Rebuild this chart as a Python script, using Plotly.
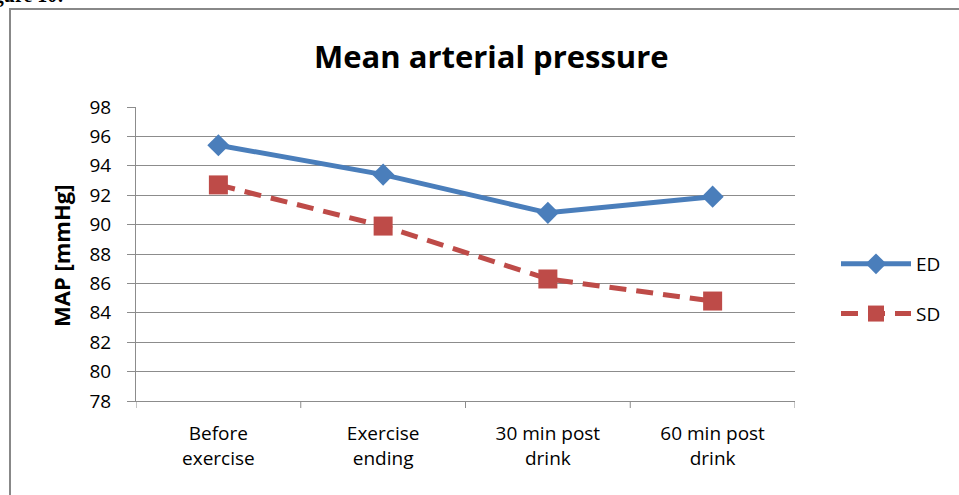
import plotly.graph_objects as go

categories = ["Before<br>exercise", "Exercise<br>ending", "30 min post<br>drink", "60 min post<br>drink"]
ed_values = [95.4, 93.4, 90.8, 91.9]
sd_values = [92.7, 89.9, 86.3, 84.8]
y_ticks = [78, 80, 82, 84, 86, 88, 90, 92, 94, 96, 98]

W, H = 959, 495
L, R, T, B = 136, 164, 107, 94
pw, ph = W - L - R, H - T - B

def px(x):
    return (x - L) / pw

def py(y):
    return (H - B - y) / ph

FONT = "Open Sans"
GRID = "#8C8C8C"

fig = go.Figure()
fig.add_trace(go.Scatter(
    x=list(range(len(categories))), y=ed_values, name="ED", mode="lines+markers",
    legendgroup="ed",
    line=dict(color="#4A7EBB", width=5),
    marker=dict(symbol="diamond", size=17, color="#4A7EBB"),
))
fig.add_trace(go.Scatter(
    x=list(range(len(categories))), y=sd_values, name="SD", mode="lines+markers",
    legendgroup="sd",
    line=dict(color="#BE4B48", width=5, dash="17px,10px"),
    marker=dict(symbol="square", size=19, color="#BE4B48"),
))

fig.update_layout(
    width=W, height=H,
    margin=dict(l=L, r=R, t=T, b=B),
    paper_bgcolor="white", plot_bgcolor="white",
    font=dict(family=FONT, color="black", size=18),
    showlegend=True,
    legend=dict(x=px(836), y=py(289), xanchor="left", yanchor="middle",
                font=dict(size=19, family=FONT), tracegroupgap=22, itemwidth=70,
                bgcolor="rgba(0,0,0,0)"),
    xaxis=dict(
        tickmode="array", tickvals=list(range(len(categories))), ticktext=categories,
        range=[-0.5, 3.5], showgrid=False, zeroline=False,
        showline=True, linecolor=GRID, linewidth=1,
        ticks="", tickfont=dict(size=19, family=FONT), ticklabelstandoff=15,
    ),
    yaxis=dict(
        range=[78, 98], tickvals=y_ticks, showgrid=True, gridcolor=GRID,
        gridwidth=1, zeroline=False, showline=True, linecolor=GRID, linewidth=1,
        ticks="outside", ticklen=8, tickcolor=GRID,
        tickfont=dict(size=19, family=FONT), ticklabelstandoff=12,
    ),
    annotations=[
        dict(text="<b>Mean arterial pressure</b>", x=px(491), y=py(56), xref="paper", yref="paper",
             showarrow=False, font=dict(size=31, family=FONT), xanchor="center", yanchor="middle"),
        dict(text="<b>MAP [mmHg]</b>", x=px(61), y=py(256), xref="paper", yref="paper",
             showarrow=False, textangle=-90, font=dict(size=22, family=FONT),
             xanchor="center", yanchor="middle"),
        dict(text="<b>Figure 10:</b>", x=px(66), y=py(9), xref="paper", yref="paper",
             showarrow=False, font=dict(size=20, family="Liberation Serif"),
             xanchor="right", yanchor="bottom"),
    ],
)

# x-axis category divider ticks
shapes = []
for b in [-0.5, 0.5, 1.5, 2.5, 3.5]:
    shapes.append(dict(type="line", xref="x", yref="paper", x0=b, x1=b, y0=0, y1=-7 / ph,
                       line=dict(color=GRID, width=1)))
# outer chart border
shapes.append(dict(type="rect", xref="paper", yref="paper",
                   x0=px(10), x1=px(W + 20), y0=py(9), y1=py(H + 20),
                   line=dict(color="#888888", width=2), fillcolor="rgba(0,0,0,0)", layer="below"))
fig.update_layout(shapes=shapes)

fig.write_html("out.html")
